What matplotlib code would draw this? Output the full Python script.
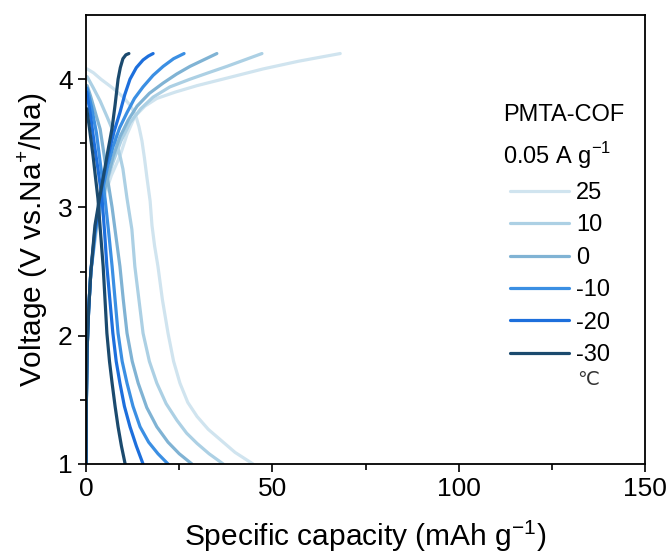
"""
Charge/discharge curves of PMTA-COF at different temperatures
"""
import matplotlib
matplotlib.use('Agg')
import matplotlib.pyplot as plt

plt.rcParams['font.family'] = ['Liberation Sans', 'DejaVu Sans']
plt.rcParams['mathtext.fontset'] = 'custom'
plt.rcParams['mathtext.rm'] = 'Liberation Sans'

temps = ['25', '10', '0', '-10', '-20', '-30']
colors = ['#d0e4ef', '#acd0e4', '#80b3d4', '#3b8fe3', '#1d6fdc', '#1b4a6e']

# charge branches (capacity, voltage)
charge_x = [
    [0, 0.1, 0.3, 0.7, 1.3, 2.7, 4.5, 6.8, 9.1, 11.0, 13.1, 15.8, 19.0, 24.0, 29.8, 38.0, 47.5, 57.0, 68.2],
    [0, 0.1, 0.3, 0.7, 1.3, 2.6, 4.3, 5.8, 7.2, 9.4, 11.8, 14.7, 18.0, 22.5, 27.9, 32.8, 37.8, 42.5, 47.2],
    [0, 0.1, 0.3, 0.7, 1.3, 2.5, 4.0, 5.6, 7.3, 9.1, 11.3, 13.7, 17.0, 20.7, 24.3, 27.9, 31.5, 35.1],
    [0, 0.1, 0.3, 0.7, 1.3, 2.4, 3.5, 4.6, 5.8, 7.2, 9.0, 11.0, 13.0, 15.3, 18.0, 20.7, 23.5, 26.3],
    [0, 0.1, 0.3, 0.7, 1.3, 2.3, 3.8, 4.8, 5.9, 7.4, 9.1, 10.4, 11.8, 13.5, 15.3, 16.7, 18.0],
    [0, 0.1, 0.3, 0.7, 1.3, 2.4, 3.5, 4.6, 5.8, 7.0, 7.8, 8.6, 9.2, 9.9, 10.7, 11.5],
]
charge_v = [
    [1.0, 1.5, 1.9, 2.2, 2.5, 2.8, 3.05, 3.25, 3.40, 3.57, 3.71, 3.79, 3.85, 3.90, 3.95, 4.01, 4.08, 4.14, 4.20],
    [1.0, 1.5, 1.9, 2.2, 2.5, 2.8, 3.05, 3.22, 3.35, 3.52, 3.66, 3.77, 3.86, 3.94, 4.00, 4.05, 4.10, 4.15, 4.20],
    [1.0, 1.5, 1.9, 2.2, 2.5, 2.8, 3.03, 3.21, 3.40, 3.55, 3.68, 3.79, 3.89, 3.97, 4.04, 4.10, 4.15, 4.20],
    [1.0, 1.5, 1.9, 2.2, 2.5, 2.8, 3.00, 3.16, 3.32, 3.47, 3.62, 3.74, 3.85, 3.94, 4.03, 4.10, 4.16, 4.20],
    [1.0, 1.5, 1.9, 2.2, 2.5, 2.8, 3.08, 3.25, 3.40, 3.58, 3.74, 3.88, 4.00, 4.09, 4.15, 4.18, 4.20],
    [1.0, 1.5, 1.9, 2.2, 2.5, 2.86, 3.05, 3.23, 3.43, 3.62, 3.80, 4.00, 4.09, 4.16, 4.19, 4.20],
]

# discharge branches (capacity, voltage)
discharge_x = [
    [0.3, 2.0, 4.0, 7.2, 10.0, 12.0, 13.3, 14.2, 15.0, 15.7, 16.4, 17.2, 17.7, 18.4, 19.3, 20.5, 22.0, 23.5, 25.2, 27.3, 29.8, 32.8, 36.0, 40.0, 44.8],
    [0.3, 2.0, 3.8, 5.6, 7.2, 8.5, 9.3, 9.9, 11.0, 12.3, 13.1, 14.2, 15.3, 17.0, 19.0, 21.5, 24.4, 27.0, 29.8, 33.0, 36.8],
    [0.3, 1.2, 2.5, 3.8, 4.9, 5.9, 7.0, 8.0, 9.1, 10.0, 11.0, 12.4, 14.0, 16.3, 19.0, 22.0, 25.0, 28.4],
    [0.3, 1.5, 2.8, 3.9, 5.1, 6.1, 7.0, 7.8, 8.6, 9.7, 11.0, 12.6, 14.5, 16.8, 19.3, 22.0],
    [0.2, 1.2, 2.2, 3.2, 4.3, 5.0, 5.6, 6.4, 7.2, 8.1, 9.1, 10.3, 11.8, 13.5, 15.3],
    [0.2, 1.0, 1.9, 2.6, 3.2, 3.9, 4.6, 5.1, 5.6, 6.3, 7.0, 7.8, 8.6, 9.5, 10.5],
]
discharge_v = [
    [4.08, 4.05, 4.00, 3.93, 3.86, 3.79, 3.72, 3.63, 3.52, 3.38, 3.22, 3.05, 2.86, 2.70, 2.54, 2.28, 2.02, 1.80, 1.63, 1.48, 1.37, 1.27, 1.19, 1.09, 1.0],
    [4.02, 3.93, 3.83, 3.71, 3.60, 3.47, 3.38, 3.30, 3.07, 2.83, 2.54, 2.28, 2.02, 1.80, 1.63, 1.47, 1.34, 1.24, 1.16, 1.08, 1.0],
    [3.95, 3.87, 3.74, 3.61, 3.40, 3.20, 3.00, 2.78, 2.54, 2.28, 2.02, 1.80, 1.63, 1.44, 1.29, 1.17, 1.08, 1.0],
    [3.93, 3.78, 3.58, 3.33, 3.07, 2.80, 2.54, 2.28, 2.02, 1.80, 1.63, 1.45, 1.29, 1.17, 1.08, 1.0],
    [3.90, 3.72, 3.50, 3.30, 3.07, 2.80, 2.54, 2.28, 2.02, 1.80, 1.63, 1.45, 1.29, 1.14, 1.0],
    [3.77, 3.60, 3.40, 3.22, 3.07, 2.80, 2.54, 2.28, 2.02, 1.80, 1.63, 1.45, 1.29, 1.14, 1.0],
]

fig = plt.figure(figsize=(6.72, 5.58), dpi=100)
ax = fig.add_axes([0.128, 0.1685, 0.832, 0.8045])

handles = []
for i, t in enumerate(temps):
    line, = ax.plot(charge_x[i], charge_v[i], color=colors[i], lw=2.3,
                    solid_capstyle='round', solid_joinstyle='round')
    ax.plot(discharge_x[i], discharge_v[i], color=colors[i], lw=2.3,
            solid_capstyle='round', solid_joinstyle='round')
    handles.append(line)

ax.set_xlim(0, 150)
ax.set_ylim(1, 4.5)
ax.set_xticks([0, 50, 100, 150])
ax.set_xticks([25, 75, 125], minor=True)
ax.set_yticks([1, 2, 3, 4])
ax.set_yticks([1.5, 2.5, 3.5], minor=True)
ax.tick_params(which='both', direction='out', top=False, right=False,
               labelsize=19, width=1.2)
ax.tick_params(which='major', length=6)
ax.tick_params(which='minor', length=4)
for s in ax.spines.values():
    s.set_linewidth(1.3)

ax.set_xlabel('Specific capacity (mAh g$^{-1}$)', fontsize=21.5, labelpad=12)
ax.set_ylabel('Voltage (V vs.Na$^{+}$/Na)', fontsize=21.5, labelpad=6)

ax.text(0.746, 0.777, 'PMTA-COF', transform=ax.transAxes, fontsize=17,
        va='center')
ax.text(0.746, 0.688, '0.05 A g$^{-1}$', transform=ax.transAxes, fontsize=17,
        va='center')
leg = ax.legend(handles, temps, loc='upper left', frameon=False,
                bbox_to_anchor=(0.7585, 0.628), fontsize=17, handlelength=2.5,
                handletextpad=0.3, labelspacing=0.44, borderpad=0,
                borderaxespad=0)
ax.text(0.878, 0.187, '℃', transform=ax.transAxes, fontsize=14,
        va='center', color='#333333')

fig.savefig('out.png', dpi=100)
